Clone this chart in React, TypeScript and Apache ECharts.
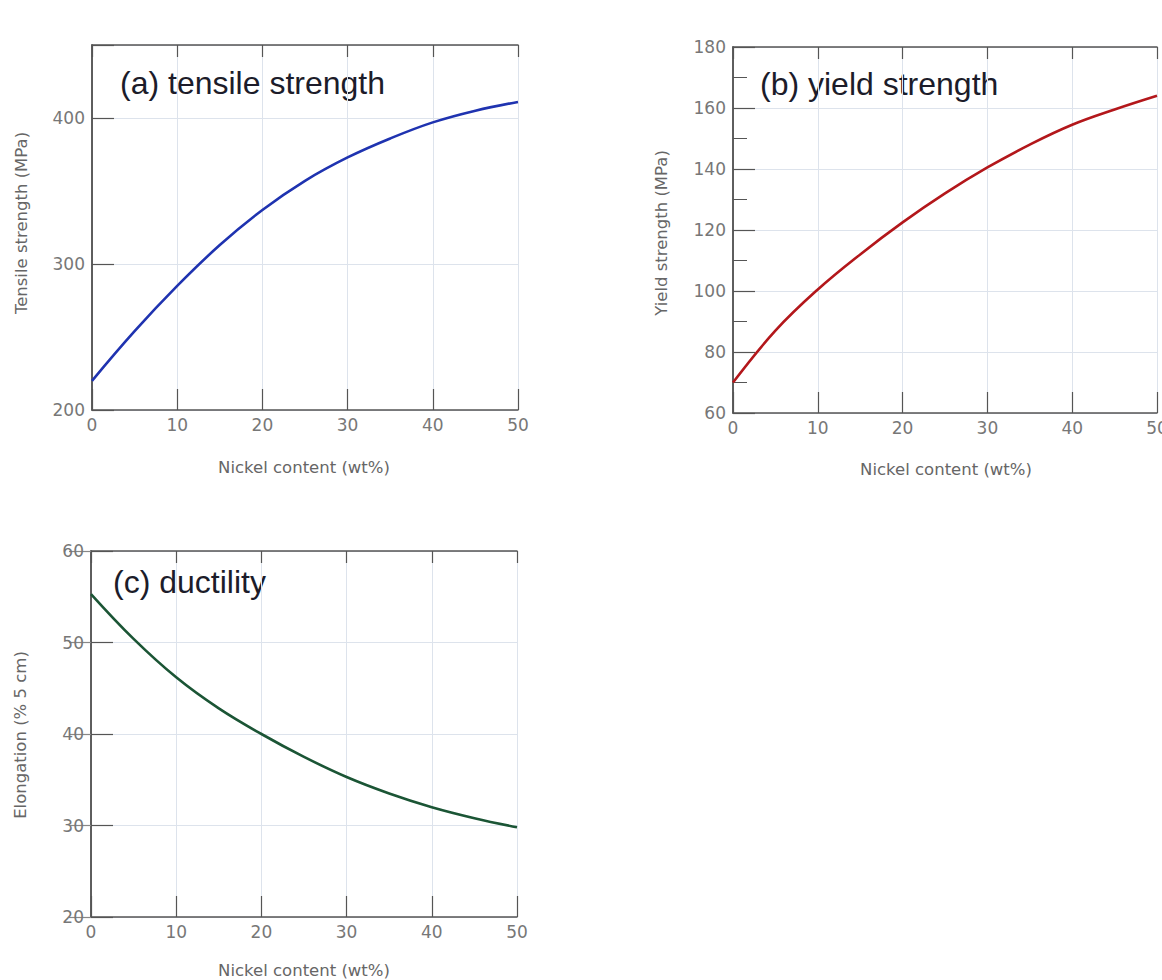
import React, { useEffect, useRef } from "react";
import * as echarts from "echarts";

const nickel = [0, 5, 10, 15, 20, 25, 30, 35, 40, 45, 50];
const tensile = [220, 254, 285, 313, 337, 357, 373, 386, 397, 405, 411];
const yieldStr = [70, 87, 100.5, 112, 122.5, 132, 140.5, 148, 154.5, 159.5, 164];
const elongation = [55.3, 50.4, 46.2, 42.8, 40, 37.5, 35.3, 33.5, 32, 30.8, 29.8];

const xLabel = "Nickel content (wt%)";
const titles = ["(a) tensile strength", "(b) yield strength", "(c) ductility"];
const yNames = ["Tensile strength (MPa)", "Yield strength (MPa)", "Elongation (% 5 cm)"];

const grids = [
  { left: 92, top: 45, width: 426, height: 365 },
  { left: 733, top: 47, width: 424, height: 366 },
  { left: 91, top: 551, width: 426, height: 366 },
];

const AXIS = "#555";
const LABEL = "#777";
const SPLIT = "#dde3ec";
const FONT = "DejaVu Sans";

export default function App() {
  const ref = useRef<HTMLDivElement>(null);
  useEffect(() => {
    if (!ref.current) return;
    const chart = echarts.init(ref.current, null, { renderer: "svg" });
    const yCfg = [
      { min: 200, max: 450, interval: 100, minor: false },
      { min: 60, max: 180, interval: 20, minor: true },
      { min: 20, max: 60, interval: 10, minor: false },
    ];
    const series = [tensile, yieldStr, elongation];
    const colors = ["#1f33b0", "#b3171b", "#1b5535"];
    const xAxis: any[] = [];
    const yAxis: any[] = [];
    grids.forEach((g, i) => {
      xAxis.push({
        type: "value", gridIndex: i, position: "bottom", min: 0, max: 50, interval: 10,
        axisLine: { show: true, lineStyle: { color: AXIS, width: 1.5 } },
        axisTick: { show: true, inside: true, length: 21, lineStyle: { color: AXIS, width: 1.2 } },
        axisLabel: { show: true, color: LABEL, fontFamily: FONT, fontSize: 17, margin: 6 },
        splitLine: { show: true, lineStyle: { color: SPLIT, width: 1 } },
      });
      xAxis.push({
        type: "value", gridIndex: i, position: "top", min: 0, max: 50, interval: 10,
        axisLine: { show: true, lineStyle: { color: AXIS, width: 1.5 } },
        axisTick: { show: true, inside: true, length: 12, lineStyle: { color: AXIS, width: 1.2 } },
        axisLabel: { show: false },
        splitLine: { show: false },
      });
      const y = yCfg[i];
      yAxis.push({
        type: "value", gridIndex: i, position: "left", min: y.min, max: y.max, interval: y.interval,
        axisLine: { show: true, lineStyle: { color: AXIS, width: 1.5 } },
        axisTick: { show: true, inside: true, length: 22, lineStyle: { color: AXIS, width: 1.2 } },
        minorTick: { show: y.minor, splitNumber: 2, length: 14, lineStyle: { color: AXIS, width: 1 } },
        axisLabel: {
          show: true, color: LABEL, fontFamily: FONT, fontSize: 17, margin: 7,
          formatter: (v: number) => (v === 450 ? "" : String(v)),
        },
        splitLine: { show: true, lineStyle: { color: SPLIT, width: 1 } },
      });
      yAxis.push({
        type: "value", gridIndex: i, position: "right", min: y.min, max: y.max, interval: y.interval,
        axisLine: { show: true, lineStyle: { color: AXIS, width: 1.5 } },
        axisTick: { show: i === 2, inside: true, length: 22, lineStyle: { color: "#888", width: 1.2 } },
        axisLabel: { show: false },
        splitLine: { show: false },
      });
    });
    const graphic: any[] = [];
    const titlePos = [
      [120, 83],
      [760, 84],
      [113, 582],
    ];
    titles.forEach((t, i) => {
      graphic.push({
        type: "text", x: titlePos[i][0], y: titlePos[i][1],
        style: { text: t, fill: "#1c1c2a", font: "32px 'Liberation Sans'", textAlign: "left", textVerticalAlign: "middle" },
      });
    });
    const xNamePos = [
      [304, 467],
      [946, 469],
      [304, 970],
    ];
    xNamePos.forEach((p) => {
      graphic.push({
        type: "text", x: p[0], y: p[1],
        style: { text: xLabel, fill: "#666", font: `16.5px '${FONT}'`, textAlign: "center", textVerticalAlign: "middle" },
      });
    });
    const yNamePos = [
      [21, 223],
      [661, 233],
      [20, 735],
    ];
    yNamePos.forEach((p, i) => {
      graphic.push({
        type: "text", x: p[0], y: p[1], rotation: Math.PI / 2,
        style: { text: yNames[i], fill: "#666", font: `16.5px '${FONT}'`, textAlign: "center", textVerticalAlign: "middle" },
      });
    });
    chart.setOption({
      animation: false,
      backgroundColor: "#fff",
      grid: grids.map((g) => ({ ...g, containLabel: false, outerBoundsMode: "none" })),
      xAxis,
      yAxis,
      series: series.map((s, i) => ({
        type: "line",
        xAxisIndex: i * 2,
        yAxisIndex: i * 2,
        data: nickel.map((x, k) => [x, s[k]]),
        smooth: 0.4,
        showSymbol: false,
        lineStyle: { color: colors[i], width: 2.6 },
      })),
      graphic,
    });
    return () => chart.dispose();
  }, []);
  return (
    <div
      ref={ref}
      style={{ position: "absolute", left: 0, top: 0, width: 1162, height: 980 }}
    />
  );
}
